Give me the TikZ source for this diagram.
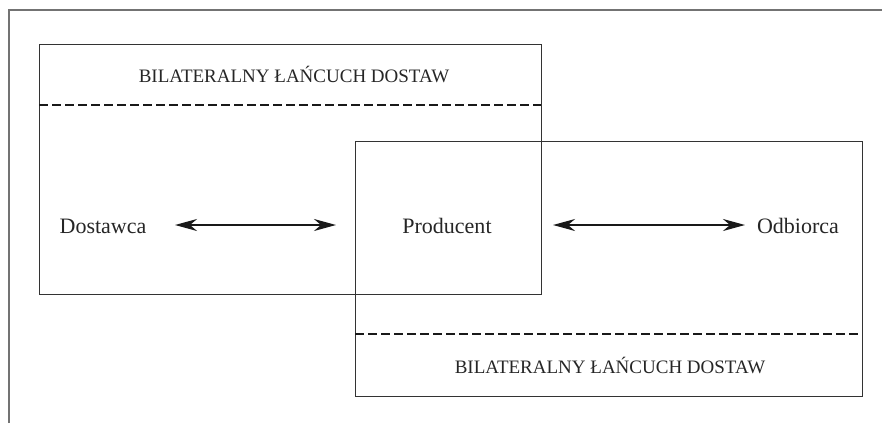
\documentclass[tikz,border=0pt]{standalone}
\usepackage{fontspec}
\setmainfont{Liberation Serif}
\usetikzlibrary{arrows.meta}
\begin{document}
\begin{tikzpicture}[x=1pt,y=-1pt,
  frame/.style={draw=black!55, line width=1.6pt},
  chainbox/.style={draw=black!80, line width=0.9pt},
  divider/.style={draw=black!90, line width=2.3pt, dash pattern=on 8.5pt off 4.5pt},
  header/.style={font=\fontsize{19}{21}\selectfont, text=black!85, inner sep=0pt},
  actor/.style={font=\fontsize{22}{24}\selectfont, text=black!85, inner sep=0pt},
  link/.style={draw=black!90, line width=1.8pt, {Stealth[length=22pt,width=12pt,inset=7pt]}-{Stealth[length=22pt,width=12pt,inset=7pt]}}
]
\useasboundingbox (0,0) rectangle (882,423);
% outer frame (top and left only)
\draw[frame] (9,423) -- (9,10) -- (882,10);
% box 1
\draw[chainbox] (39,44) rectangle (541,294);
\draw[divider] (39,105) -- (541,105);
% box 2
\draw[chainbox] (355,141) rectangle (862,396);
\draw[divider] (355,334) -- (862,334);
% texts
\node[header] (h1) at (294,74) {BILATERALNY ŁAŃCUCH DOSTAW};
\node[header] (h2) at (610,365) {BILATERALNY ŁAŃCUCH DOSTAW};
\node[actor] (dost) at (103,226) {Dostawca};
\node[actor] (prod) at (447,226) {Producent};
\node[actor] (odb) at (798,226) {Odbiorca};
% arrow ends
\coordinate (a1) at (175,225);
\coordinate (a2) at (336,225);
\coordinate (b1) at (553,225);
\coordinate (b2) at (745,225);
\draw[link] (a1) -- (a2);
\draw[link] (b1) -- (b2);
\end{tikzpicture}
\end{document}
